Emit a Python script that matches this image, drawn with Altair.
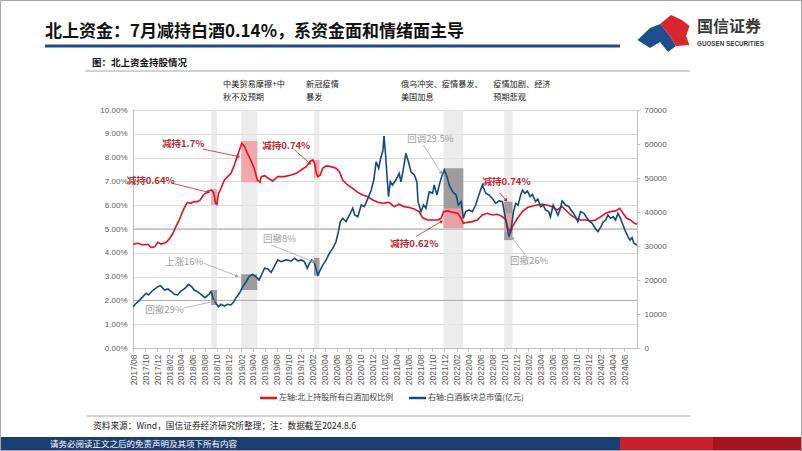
import altair as alt
import pandas as pd

# ---------------- data ----------------
red_dates = ["2017-08-01","2017-08-26","2017-09-20","2017-10-15","2017-11-02","2017-11-19","2017-12-05","2017-12-22",
    "2018-01-17","2018-02-04","2018-02-20","2018-03-07","2018-03-24","2018-04-10","2018-04-26","2018-05-05","2018-05-22",
    "2018-06-08","2018-06-25","2018-07-09","2018-07-25","2018-08-15","2018-09-02","2018-09-15","2018-09-25","2018-10-02",
    "2018-10-09","2018-10-22","2018-11-09","2018-11-25","2018-12-12","2018-12-29","2019-01-15","2019-02-05","2019-02-19",
    "2019-03-06","2019-03-22","2019-04-09","2019-04-25","2019-05-09","2019-05-15","2019-06-01","2019-06-25","2019-07-12",
    "2019-08-07","2019-09-10","2019-10-14","2019-11-09","2019-12-04","2019-12-29","2020-01-20","2020-02-02","2020-02-10",
    "2020-02-19","2020-02-27","2020-03-10","2020-03-22","2020-04-09","2020-05-04","2020-05-29","2020-06-15","2020-07-02",
    "2020-07-27","2020-08-22","2020-09-17","2020-10-12","2020-11-07","2020-12-02","2020-12-27","2021-01-22","2021-02-17",
    "2021-02-25","2021-03-21","2021-04-15","2021-05-10","2021-06-05","2021-07-01","2021-07-25","2021-08-12","2021-09-07",
    "2021-10-02","2021-10-27","2021-11-14","2021-11-27","2021-12-17","2022-01-12","2022-02-07","2022-02-24","2022-03-07",
    "2022-03-27","2022-04-22","2022-05-17","2022-06-12","2022-07-07","2022-08-02","2022-08-27","2022-09-22","2022-10-09",
    "2022-10-20","2022-11-04","2022-11-12","2022-12-07","2023-01-02","2023-01-27","2023-02-22","2023-03-17","2023-04-12",
    "2023-05-07","2023-06-02","2023-06-27","2023-07-22","2023-08-09","2023-09-04","2023-09-29","2023-10-24","2023-11-19",
    "2023-12-14","2024-01-09","2024-02-04","2024-02-29","2024-03-24","2024-04-19","2024-05-10","2024-05-27","2024-06-14",
    "2024-07-04","2024-07-24","2024-08-06"]
red_vals = [4.36,4.40,4.33,4.36,4.22,4.25,4.44,4.36,
    4.44,4.61,4.82,5.10,5.38,5.73,6.01,6.12,6.08,
    6.15,6.15,6.22,6.43,6.57,6.64,6.54,6.08,6.04,
    6.46,6.71,7.06,7.20,7.34,7.69,8.11,8.60,8.46,
    8.18,7.90,7.55,7.06,6.96,7.20,7.24,7.10,7.02,
    7.20,7.20,7.27,7.34,7.48,7.62,7.86,7.90,7.76,
    7.34,7.20,7.27,7.55,7.65,7.62,7.55,7.41,7.06,
    6.85,6.71,6.54,6.43,6.36,6.22,6.12,6.08,6.12,
    6.10,5.94,6.04,5.94,5.90,5.84,5.73,5.47,5.38,
    5.38,5.38,5.45,5.73,5.76,5.70,5.66,5.45,5.24,
    5.28,5.31,5.38,5.59,5.66,5.59,5.62,5.52,5.38,
    5.03,4.89,5.10,5.45,5.73,5.90,5.97,6.01,6.04,
    6.01,5.94,5.80,5.94,5.80,5.59,5.45,5.38,5.38,
    5.34,5.38,5.52,5.66,5.73,5.76,5.87,5.66,5.45,
    5.38,5.24,5.20]

blue_dates = ["2017-08-01","2017-08-17","2017-09-04","2017-09-20","2017-10-07","2017-10-19","2017-11-02","2017-11-19",
    "2017-12-05","2017-12-19","2018-01-09","2018-01-26","2018-02-12","2018-02-28","2018-03-16","2018-04-02","2018-04-22",
    "2018-05-10","2018-05-26","2018-06-08","2018-06-25","2018-07-12","2018-08-02","2018-08-19","2018-09-02","2018-09-15",
    "2018-09-27","2018-10-09","2018-10-22","2018-11-09","2018-11-25","2018-12-12","2018-12-26","2019-01-07","2019-01-24",
    "2019-02-10","2019-02-27","2019-03-14","2019-04-01","2019-04-17","2019-05-04","2019-05-14","2019-06-01","2019-06-17",
    "2019-07-04","2019-07-20","2019-08-07","2019-08-24","2019-09-19","2019-10-14","2019-11-01","2019-11-17","2019-12-04",
    "2019-12-20","2020-01-04","2020-01-15","2020-01-27","2020-02-07","2020-02-19","2020-02-27","2020-03-10","2020-03-22",
    "2020-04-09","2020-04-25","2020-05-12","2020-05-29","2020-06-10","2020-06-20","2020-07-02","2020-07-19","2020-08-05",
    "2020-08-22","2020-09-01","2020-09-17","2020-10-04","2020-10-20","2020-11-07","2020-11-24","2020-12-07","2020-12-19",
    "2021-01-01","2021-01-11","2021-01-22","2021-01-28","2021-02-05","2021-02-12","2021-02-20","2021-03-01","2021-03-12",
    "2021-03-29","2021-04-15","2021-04-24","2021-05-07","2021-05-19","2021-06-01","2021-06-14","2021-07-01","2021-07-14",
    "2021-07-20","2021-08-04","2021-08-17","2021-08-29","2021-09-15","2021-10-02","2021-10-10","2021-10-24","2021-11-05",
    "2021-11-17","2021-12-01","2021-12-14","2021-12-25","2022-01-12","2022-01-29","2022-02-10","2022-02-24","2022-03-07",
    "2022-03-19","2022-04-05","2022-04-22","2022-05-09","2022-05-25","2022-06-12","2022-06-29","2022-07-15","2022-08-02",
    "2022-08-19","2022-09-05","2022-09-22","2022-10-04","2022-10-17","2022-10-25","2022-11-05","2022-11-17","2022-11-29",
    "2022-12-10","2022-12-24","2023-01-02","2023-01-14","2023-01-27","2023-02-10","2023-02-22","2023-03-09","2023-03-21",
    "2023-04-04","2023-04-17","2023-04-29","2023-05-15","2023-05-24","2023-06-07","2023-06-19","2023-07-01","2023-07-14",
    "2023-07-22","2023-08-09","2023-08-25","2023-09-12","2023-09-29","2023-10-10","2023-10-24","2023-11-10","2023-11-27",
    "2023-12-10","2023-12-22","2024-01-09","2024-01-21","2024-02-04","2024-02-17","2024-02-29","2024-03-11","2024-03-24",
    "2024-04-07","2024-04-19","2024-05-01","2024-05-14","2024-05-27","2024-06-09","2024-06-21","2024-07-01","2024-07-12",
    "2024-07-21","2024-08-06"]
blue_vals = [12150,13150,14100,15100,16100,15600,16550,17350,
    18050,18300,17050,17350,16550,15800,15600,16750,17550,
    18700,18050,17050,16550,15800,14800,15600,16550,14100,
    13150,12150,12850,12350,12850,12650,13600,14800,16100,
    18050,19500,21000,21650,21000,20000,21250,23450,23250,
    22250,23900,25900,25400,25900,25600,26400,25600,25900,
    25400,23450,24900,25900,25400,22950,21450,22950,24400,
    25900,27850,29300,31250,34200,37150,38150,37150,39100,
    41100,39100,38600,42050,41550,44000,46450,49400,54800,
    52850,55800,58000,62300,56750,50900,44500,48900,47950,
    49400,51350,48900,52850,57250,54800,51850,50900,48900,
    43050,40100,42050,41100,45950,45500,47950,45000,47950,
    50400,52350,50400,47950,45950,45000,42050,43050,38150,
    40100,40600,40100,42050,45000,47950,45500,45000,44000,
    42550,43250,43050,39100,35200,32750,35000,40100,42550,
    42050,45000,46450,45500,46150,44500,45200,43050,43800,
    41550,42050,40600,40100,38600,42050,40600,39100,41100,
    43250,42050,41550,40100,38600,37150,40100,39600,38150,
    37150,36650,35000,34200,35650,37150,37650,39100,38150,
    38600,37650,39600,38150,36200,34200,32750,31750,32450,
    30800,30300]

x_tick_labels = ["2017/08","2017/10","2017/12","2018/02","2018/04","2018/06","2018/08","2018/10","2018/12",
    "2019/02","2019/04","2019/06","2019/08","2019/10","2019/12","2020/02","2020/04","2020/06","2020/08","2020/10",
    "2020/12","2021/02","2021/04","2021/06","2021/08","2021/10","2021/12","2022/02","2022/04","2022/06","2022/08",
    "2022/10","2022/12","2023/02","2023/04","2023/06","2023/08","2023/10","2023/12","2024/02","2024/04","2024/06"]
left_ticks = [0, 1, 2, 3, 4, 5, 6, 7, 8, 9, 10]
right_ticks = [0, 10000, 20000, 30000, 40000, 50000, 60000, 70000]

# event windows
band_start = ["2018-09-02", "2019-02-02", "2020-02-07", "2021-11-27", "2022-10-01"]
band_end = ["2018-10-02", "2019-04-25", "2020-03-06", "2022-03-07", "2022-11-12"]
pink_lo = [6.00, 6.96, 7.16, 5.06, 4.87]
pink_hi = [6.68, 8.70, 7.90, 5.87, 5.67]
gray_lo = [12650, 17050, 21250, 35400, 31750]
gray_hi = [17050, 21700, 26550, 52850, 43000]

# annotation texts (left-axis units)
red_notes = ["减持0.64%", "减持1.7%", "减持0.74%", "减持0.62%", "减持0.74%"]
red_note_date = ["2017-10-30", "2018-04-13", "2019-09-19", "2021-07-01", "2022-10-13"]
red_note_val = [7.02, 8.59, 8.49, 4.37, 6.99]
gray_notes = ["上涨16%", "回撤29%", "回撤8%", "回调29.5%", "回撤26%"]
gray_note_date = ["2018-04-18", "2018-01-08", "2019-08-16", "2021-09-21", "2023-02-05"]
gray_note_val = [3.63, 1.60, 4.57, 8.77, 3.66]

arrow_x1 = ["2018-02-12", "2018-07-21", "2019-11-01", "2021-07-09", "2022-09-06",
            "2018-07-27", "2018-04-12", "2019-07-04", "2021-08-16", "2023-01-19"]
arrow_y1 = [6.93, 8.36, 8.32, 4.68, 6.53, 3.56, 1.67, 4.33, 8.53, 3.88]
arrow_x2 = ["2018-08-16", "2019-01-16", "2020-01-16", "2021-11-14", "2022-10-09",
            "2019-01-09", "2018-09-12", "2020-02-02", "2021-11-14", "2022-11-12"]
arrow_y2 = [6.55, 8.05, 7.76, 5.31, 6.22, 3.03, 1.95, 3.63, 7.37, 4.61]
arrow_angle = [105, 102, 132, 59, 137, 111, 78, 112, 147, 322]
arrow_color = ["#c0272d"] * 5 + ["#a6a6a6"] * 5

event_line1 = ["中美贸易摩擦+中", "新冠疫情", "俄乌冲突、疫情暴发、", "疫情加剧、经济"]
event_line2 = ["秋不及预期", "暴发", "美国加息", "预期悲观"]
event_date = ["2018-11-02", "2019-12-29", "2021-04-24", "2022-08-06"]
event_val1 = [11.03, 11.03, 11.03, 11.03]
event_val2 = [10.50, 10.50, 10.50, 10.50]

dark_grid = [2, 5]

# ---------------- styling ----------------
RED = "#e3121c"
BLUE = "#154a82"
W, H = 504, 238
CJK = "Noto Sans CJK SC"
LAT = "Liberation Sans"


def dt(s):
    y, m, d = s.split("-")
    return alt.DateTime(year=int(y), month=int(m), date=int(d), utc=True)


xscale = alt.Scale(type="utc", domain=[dt("2017-08-01"), dt("2024-08-06")])
xaxis = alt.Axis(values=[dt(s.replace("/", "-") + "-01") for s in x_tick_labels],
                 labelExpr="utcFormat(datum.value, '%Y/%m')", labelAngle=270, labelFontSize=8.5,
                 labelColor="#595959", labelFont=LAT, tickColor="#bfbfbf", tickSize=3,
                 domainColor="#bfbfbf", grid=False, title=None, labelPadding=3,
                 labelOverlap=False, labelFlush=False)
lscale = alt.Scale(domain=[0, 10], nice=False, zero=False)
rscale = alt.Scale(domain=[0, 70000], nice=False, zero=False)


def X(field):
    return alt.X(field, type="temporal", scale=xscale, axis=xaxis)


red_df = pd.DataFrame({"date": red_dates, "v": red_vals})
blue_df = pd.DataFrame({"date": blue_dates, "v": blue_vals})
box_df = pd.DataFrame({"s": band_start, "e": band_end, "plo": pink_lo, "phi": pink_hi,
                       "glo": gray_lo, "ghi": gray_hi})

bands = alt.Chart(box_df).mark_rect(color="#e6e6e6", opacity=0.75).encode(
    x=X("s"), x2="e", y=alt.value(0), y2=alt.value(H))

darkgrid = alt.Chart(pd.DataFrame({"g": dark_grid})).mark_rule(color="#ababab", strokeWidth=1).encode(
    y=alt.Y("g:Q", scale=lscale, axis=None))

gray_boxes = alt.Chart(box_df).mark_rect(color="#8f8f8f", opacity=0.85).encode(
    x=X("s"), x2="e", y=alt.Y("glo:Q", scale=rscale, axis=None), y2="ghi")
pink_boxes = alt.Chart(box_df).mark_rect(color="#f2a1a7", opacity=0.92).encode(
    x=X("s"), x2="e", y=alt.Y("plo:Q", scale=lscale, axis=None), y2="phi")

red_line = alt.Chart(red_df).mark_line(color=RED, strokeWidth=1.6).encode(
    x=X("date"),
    y=alt.Y("v:Q", scale=lscale,
            axis=alt.Axis(values=left_ticks, labelExpr="format(datum.value, '.2f') + '%'",
                          grid=True, gridColor="#d9d9d9", domainColor="#bfbfbf", ticks=False,
                          labelFontSize=8, labelColor="#595959", labelFont=LAT, title=None,
                          labelPadding=6, orient="left")))
blue_line = alt.Chart(blue_df).mark_line(color=BLUE, strokeWidth=1.6).encode(
    x=X("date"),
    y=alt.Y("v:Q", scale=rscale,
            axis=alt.Axis(values=right_ticks, format="d", grid=False, domainColor="#bfbfbf",
                          tickColor="#bfbfbf", tickSize=3, labelFontSize=8, labelColor="#595959",
                          labelFont=LAT, title=None, labelPadding=4, orient="right")))

arrow_df = pd.DataFrame({"x1": arrow_x1, "y1": arrow_y1, "x2": arrow_x2, "y2": arrow_y2,
                         "ang": arrow_angle, "c": arrow_color})
arrows = alt.Chart(arrow_df).mark_rule(strokeWidth=0.8).encode(
    x=X("x1"), x2="x2", y=alt.Y("y1:Q", scale=lscale, axis=None), y2="y2",
    color=alt.Color("c:N", scale=None))
heads = alt.Chart(arrow_df).mark_point(shape="triangle", filled=True, size=16, opacity=1).encode(
    x=X("x2"), y=alt.Y("y2:Q", scale=lscale, axis=None),
    angle=alt.Angle("ang:Q", scale=None), color=alt.Color("c:N", scale=None))

red_txt = alt.Chart(pd.DataFrame({"t": red_notes, "d": red_note_date, "v": red_note_val})).mark_text(
    color="#c0272d", fontWeight="bold", fontSize=9.5, font=CJK).encode(
    x=X("d"), y=alt.Y("v:Q", scale=lscale, axis=None), text="t:N")
gray_txt = alt.Chart(pd.DataFrame({"t": gray_notes, "d": gray_note_date, "v": gray_note_val})).mark_text(
    color="#a0a0a0", fontSize=9.5, font=CJK).encode(
    x=X("d"), y=alt.Y("v:Q", scale=lscale, axis=None), text="t:N")
ev_df = pd.DataFrame({"t1": event_line1, "t2": event_line2, "d": event_date,
                      "v1": event_val1, "v2": event_val2})
event_txt1 = alt.Chart(ev_df).mark_text(
    color="#1a1a1a", fontSize=8.2, font=CJK, align="left", baseline="middle").encode(
    x=X("d"), y=alt.Y("v1:Q", scale=lscale, axis=None), text="t1:N")
event_txt2 = alt.Chart(ev_df).mark_text(
    color="#1a1a1a", fontSize=8.2, font=CJK, align="left", baseline="middle").encode(
    x=X("d"), y=alt.Y("v2:Q", scale=lscale, axis=None), text="t2:N")

# ---------------- page decoration (pixel offsets from plot origin) ----------------
one = pd.DataFrame({"k": [0]})


def rule(x1, x2, y1, y2, color, w):
    return alt.Chart(one).mark_rule(color=color, strokeWidth=w).encode(
        x=alt.value(x1), x2=alt.value(x2), y=alt.value(y1), y2=alt.value(y2))


def txt(s, x, y, size, color="#000000", weight="normal", align="left", font=CJK):
    return alt.Chart(pd.DataFrame({"t": [s]})).mark_text(
        fontSize=size, color=color, fontWeight=weight, align=align, baseline="middle", font=font).encode(
        x=alt.value(x), y=alt.value(y), text="t:N")


def rect(x1, x2, y1, y2, color):
    return alt.Chart(one).mark_rect(color=color).encode(
        x=alt.value(x1), x2=alt.value(x2), y=alt.value(y1), y2=alt.value(y2))


logo_red = alt.Chart(one).mark_point(
    shape="M -0.13 -0.37 L 0.29 -0.71 L 0.71 -0.52 L 1 -0.29 L 0.87 0.1 L 1 0.44 L 0.48 0.48 L 0.25 0.1 Z",
    filled=True, size=2704, color="#d7262e", opacity=1).encode(x=alt.value(530.5), y=alt.value(-76.5))
logo_blue = alt.Chart(one).mark_point(
    shape="M -1 0.25 L -0.52 -0.21 L -0.13 -0.37 L 0.25 0.1 L 0.48 0.48 L 0.17 0.71 L -0.13 0.33 L -0.52 0.56 Z",
    filled=True, size=2704, color="#1f4e8c", opacity=1).encode(x=alt.value(530.5), y=alt.value(-76.5))

border = alt.Chart(one).mark_rect(fillOpacity=0, stroke="#a6a6a6", strokeWidth=1).encode(
    x=alt.value(-132.5), x2=alt.value(668.5), y=alt.value(-109.5), y2=alt.value(340.5))

deco = [
    txt("北上资金：7月减持白酒0.14%，系资金面和情绪面主导", -88, -78, 17, "#111111", "bold"),
    rule(-88, 487, -64, -64, "#1f4b8a", 3),
    txt("图：北上资金持股情况", -41, -47, 9.5, "#111111", "bold"),
    rule(-48, 557, -39, -39, "#a6a6a6", 1),
    logo_blue, logo_red,
    txt("国信证券", 564, -83, 16, "#3a3a3a", "bold"),
    txt("GUOSEN SECURITIES", 564, -66, 6.3, "#3a3a3a", "bold", font=LAT),
    rule(127, 144, 288, 288, RED, 2.5),
    txt("左轴:北上持股所有白酒加权比例", 146, 288, 8, "#404040"),
    rule(276, 293, 288, 288, BLUE, 2.5),
    txt("右轴:白酒板块总市值(亿元)", 295, 288, 8, "#404040"),
    rule(-46, 557, 306, 306, "#a6a6a6", 1),
    txt("资料来源：Wind，国信证券经济研究所整理；注：数据截至2024.8.6", -40, 316, 8.7, "#222222"),
    rect(-133, 669, 327, 341, "#1b3e70"),
    rect(487, 669, 327, 341, "#c8202a"),
    rect(580, 669, 327, 341, "#a3161f"),
    txt("请务必阅读正文之后的免责声明及其项下所有内容", -83, 334, 8.5, "#ffffff"),
    border,
]

chart = alt.layer(
    bands, darkgrid, gray_boxes, pink_boxes, red_line, blue_line,
    arrows, heads, red_txt, gray_txt, event_txt1, event_txt2, *deco
).resolve_scale(y="independent").properties(
    width=W, height=H,
    autosize=alt.AutoSizeParams(type="none"),
    padding={"left": 133, "top": 110, "right": 165, "bottom": 103},
    background="#ffffff",
).configure_view(strokeWidth=0)

chart.save("out.html", embed_options={"renderer": "svg", "actions": False})
